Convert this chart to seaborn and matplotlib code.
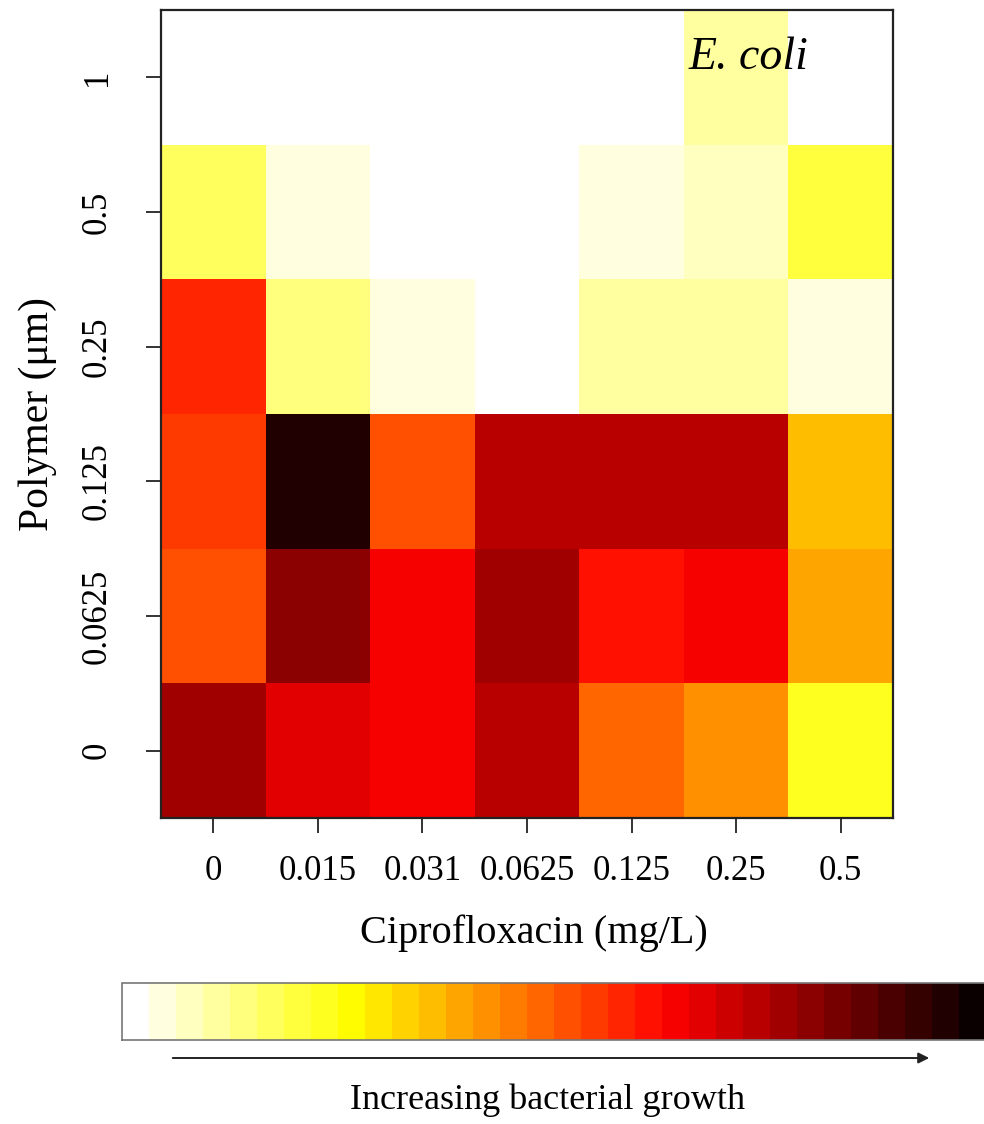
import numpy as np
import pandas as pd
import matplotlib
matplotlib.use("Agg")
import matplotlib.pyplot as plt
from matplotlib.colors import ListedColormap
import seaborn as sns

# ---- data ----
cipro = ["0", "0.015", "0.031", "0.0625", "0.125", "0.25", "0.5"]
polymer = ["1", "0.5", "0.25", "0.125", "0.0625", "0"]  # top to bottom

row_1      = [0.00, 0.00, 0.00, 0.00, 0.00, 0.11, 0.00]
row_0_5    = [0.16, 0.045, 0.00, 0.00, 0.045, 0.07, 0.21]
row_0_25   = [0.58, 0.13, 0.045, 0.00, 0.10, 0.10, 0.045]
row_0_125  = [0.55, 0.94, 0.50, 0.72, 0.72, 0.72, 0.35]
row_0_0625 = [0.52, 0.81, 0.64, 0.76, 0.62, 0.63, 0.40]
row_0      = [0.76, 0.685, 0.64, 0.72, 0.48, 0.43, 0.24]

growth = pd.DataFrame([row_1, row_0_5, row_0_25, row_0_125, row_0_0625, row_0],
                      index=polymer, columns=cipro)

n_levels = 32
cmap = ListedColormap(plt.get_cmap("hot_r")(np.linspace(0, 1, n_levels)))

sns.set_theme(style="white")
plt.rcParams["font.family"] = ["Liberation Serif", "DejaVu Serif"]
plt.rcParams["text.color"] = "black"
plt.rcParams["axes.labelcolor"] = "black"
plt.rcParams["xtick.color"] = "black"
plt.rcParams["ytick.color"] = "black"

W, H = 984, 1124
fig = plt.figure(figsize=(W / 100, H / 100), dpi=100)

ax = fig.add_axes([161 / W, 1 - 818 / H, (893 - 161) / W, (818 - 10) / H])
cax = fig.add_axes([122 / W, 1 - 1040 / H, (986 - 122) / W, (1040 - 983) / H])

sns.heatmap(growth, ax=ax, cmap=cmap, vmin=0, vmax=1, cbar=True, cbar_ax=cax,
            cbar_kws={"orientation": "horizontal", "ticks": []},
            linewidths=0)

for s in ax.spines.values():
    s.set_visible(True)
    s.set_color("#222222")
    s.set_linewidth(1.6)

ax.set_xticklabels(cipro, rotation=0, fontsize=25, color="black")
ax.set_yticklabels(polymer, rotation=90, va="center", fontsize=25, color="black")
ax.tick_params(axis="x", bottom=True, length=11, width=1.4, color="#333333", pad=16)
ax.tick_params(axis="y", left=True, length=11, width=1.4, color="#333333", pad=23)

ax.set_xlabel("Ciprofloxacin (mg/L)", fontsize=29, color="black")
ax.xaxis.set_label_coords(0.51, -0.142)
ax.xaxis.label.set_va("center")
ax.set_ylabel("Polymer (\u03bcm)", fontsize=30, color="black")
ax.yaxis.set_label_coords(-0.168, 0.5)
ax.yaxis.label.set_va("center")

ax.text(0.802, 0.941, "E. coli", transform=ax.transAxes, fontsize=33,
        style="italic", ha="center", va="center", color="black")

# colorbar outline
cb = ax.collections[0].colorbar
cb.outline.set_edgecolor("#777777")
cb.outline.set_linewidth(1.2)
cax.tick_params(length=0)

# arrow and caption
fig.patches.append(matplotlib.patches.FancyArrowPatch(
    (170 / W, 1 - 1058 / H), (932 / W, 1 - 1058 / H), transform=fig.transFigure,
    arrowstyle="-|>", mutation_scale=16, lw=1.4, color="#222222"))
fig.text(548 / W, 1 - 1100 / H, "Increasing bacterial growth", ha="center",
         va="center", fontsize=26, color="black")

fig.savefig("out.png", dpi=100)
